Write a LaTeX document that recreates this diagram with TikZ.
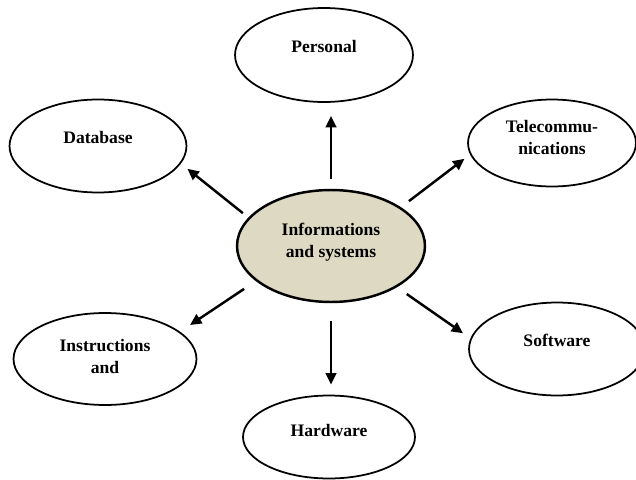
\documentclass[tikz,border=0pt]{standalone}
\usepackage{fontspec}
\setmainfont{Liberation Serif}
\usetikzlibrary{shapes,arrows.meta}

\tikzset{
    bubble/.style={ellipse, draw, line width=1pt, align=center,
        font=\bfseries\fontsize{10}{12.5}\selectfont, text depth=9.5pt},
    arr/.style={-{Triangle[length=6.5pt,width=6pt]}, line width=1.4pt}
}

\begin{document}
\begin{tikzpicture}[x=0.02cm, y=-0.02cm]
    \useasboundingbox (0,0) rectangle (636,480);

    % El nodo central
    \node[bubble, fill={rgb,255:red,221;green,217;blue,195}, line width=1.4pt,
        minimum width=3.76cm, minimum height=2.24cm, text depth=7pt] (info) at (331,246) {Informations\\and systems};

    % Los nodos exteriores
    \node[bubble, minimum width=3.56cm, minimum height=1.88cm, text depth=10pt] (pers) at (324,55) {Personal};
    \node[bubble, minimum width=3.54cm, minimum height=1.86cm] (db) at (98,146) {Database};
    \node[bubble, minimum width=3.36cm, minimum height=1.74cm, text depth=6pt] (tele) at (552,143) {Telecommu-\\nications};
    \node[bubble, minimum width=3.66cm, minimum height=1.84cm, text depth=3pt] (inst) at (105,359) {Instructions\\and};
    \node[bubble, minimum width=3.52cm, minimum height=1.86cm] (soft) at (557,349) {Software};
    \node[bubble, minimum width=3.44cm, minimum height=1.66cm, text depth=8pt] (hard) at (329,437) {Hardware};

    % Las flechas
    \draw[arr, shorten <=5.7pt, shorten >=7.4pt] (info.north) -- (info.north |- pers.south);
    \draw[arr, shorten <=10.2pt, shorten >=5.7pt] (info.south) -- (info.south |- hard.north);
    \draw[arr, shorten <=4pt, shorten >=4.7pt] (info.161) -- (db.-12);
    \draw[arr, shorten <=5.7pt, shorten >=4pt] (info.29) -- (tele.188);
    \draw[arr, shorten <=8pt, shorten >=6.8pt] (info.205) -- (inst.20);
    \draw[arr, shorten <=6.8pt, shorten >=5.1pt] (info.-32) -- (soft.173);
\end{tikzpicture}
\end{document}
